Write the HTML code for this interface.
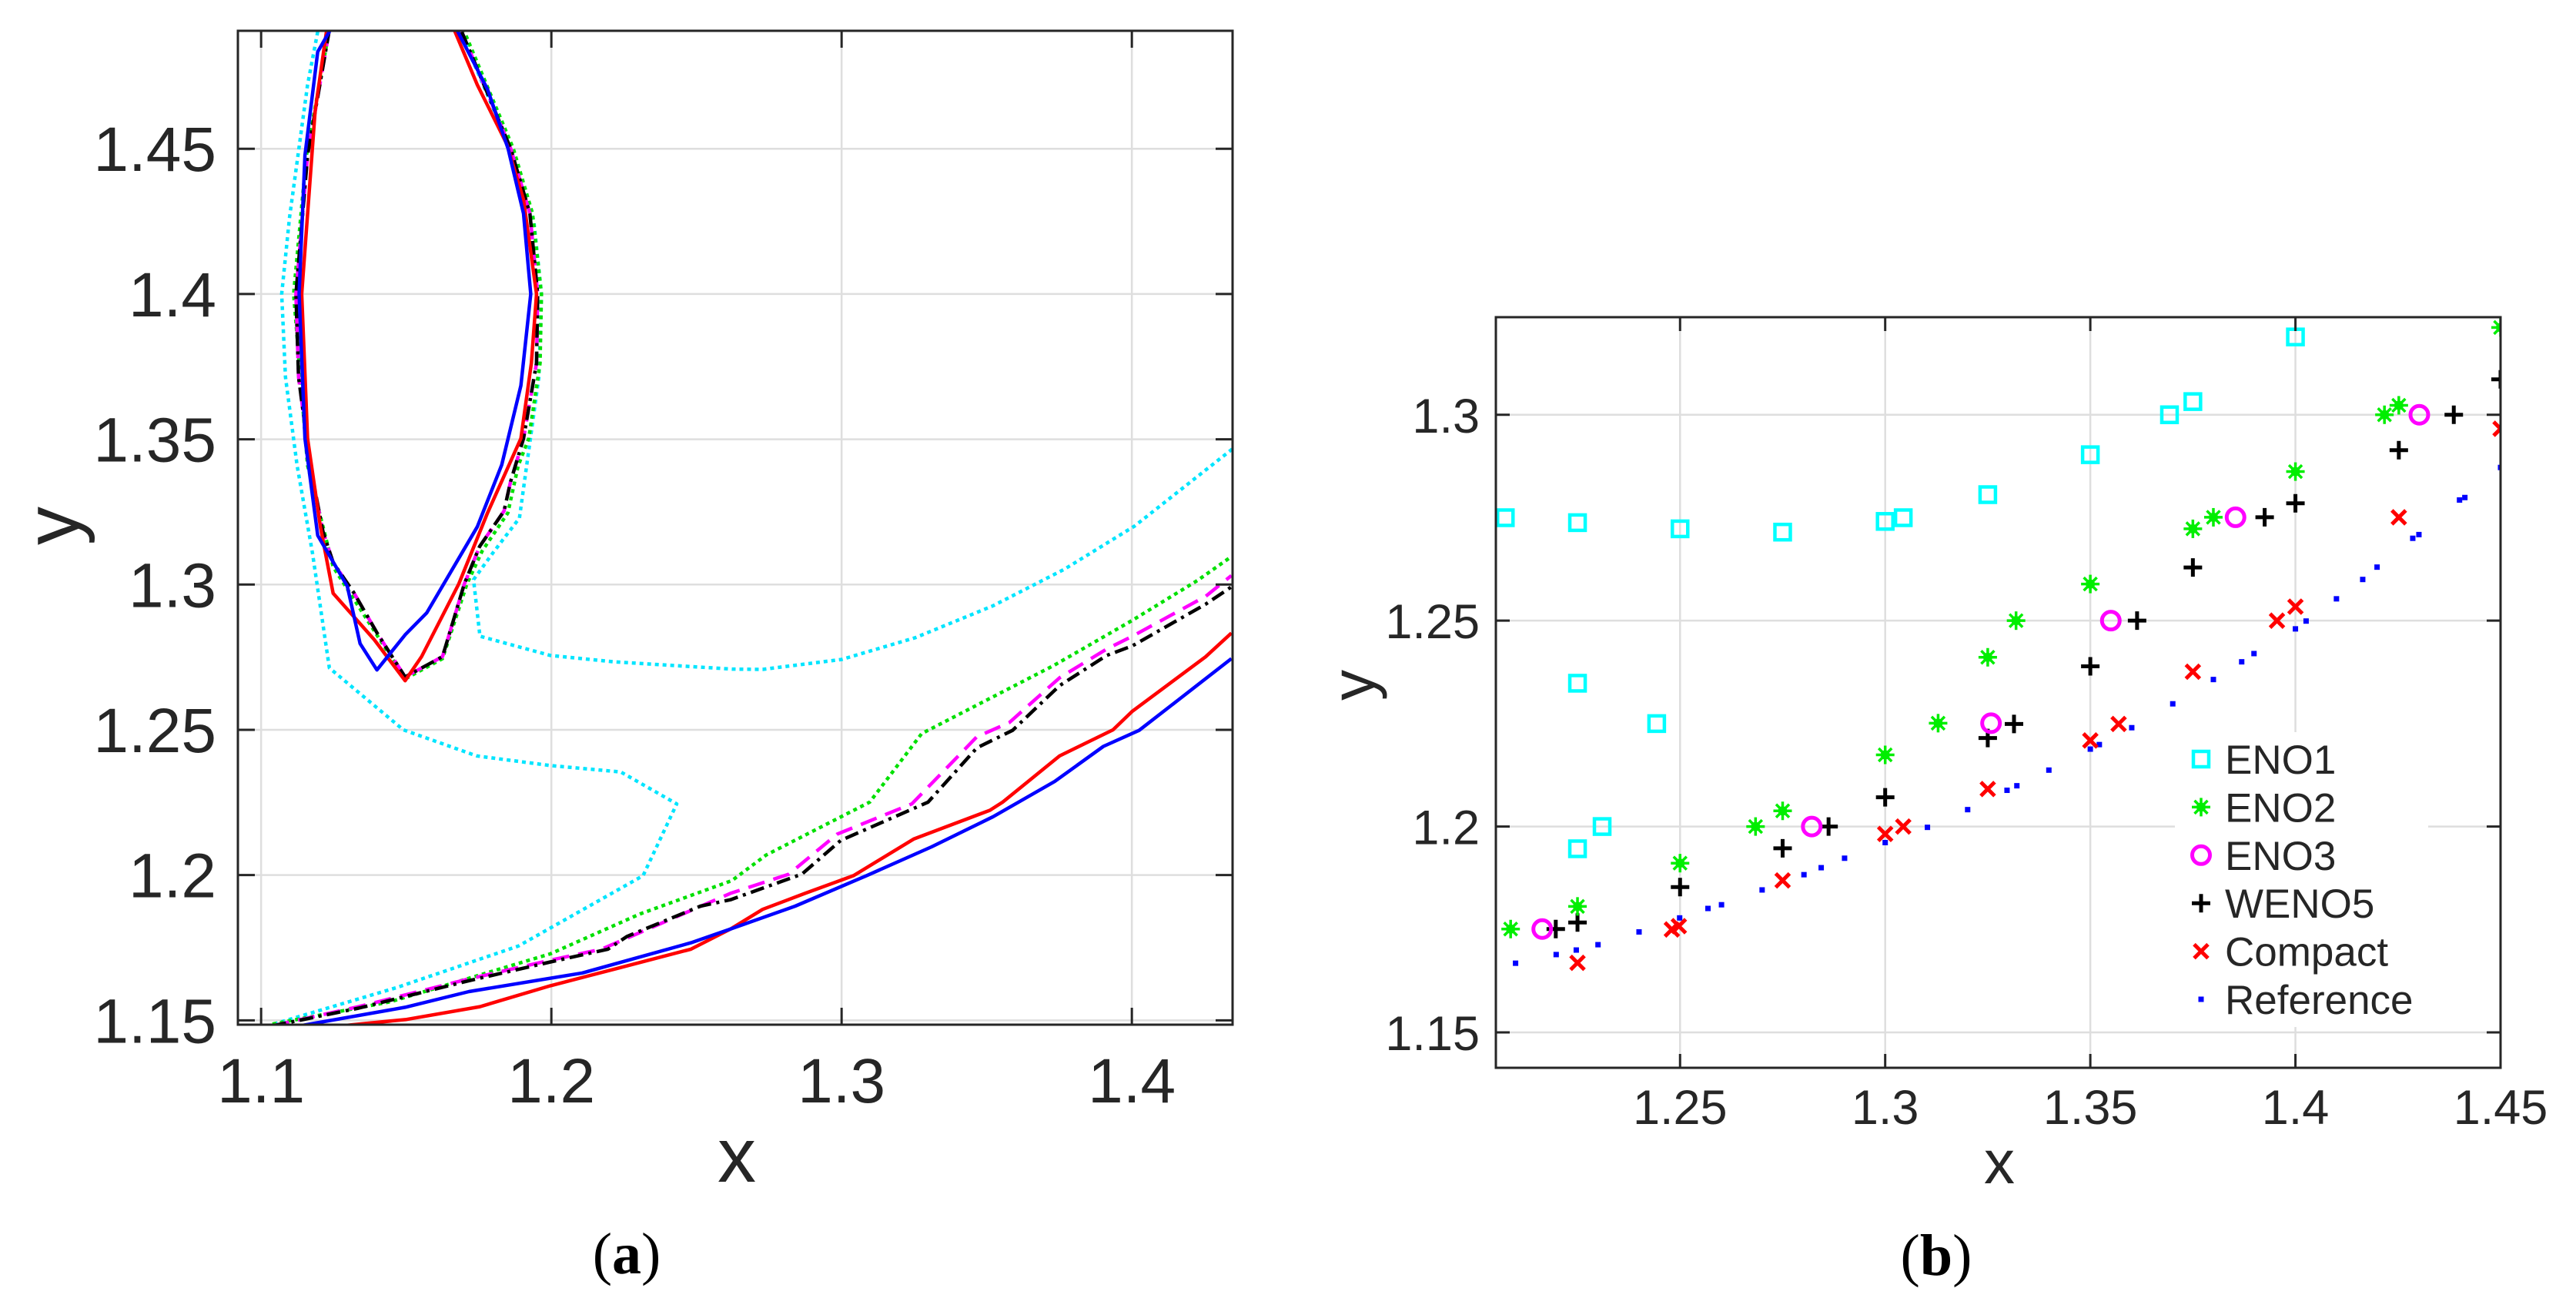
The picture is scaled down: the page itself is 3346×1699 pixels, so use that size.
<!DOCTYPE html>
<html><head><meta charset="utf-8"><style>
html,body{margin:0;padding:0;background:#fff;}
svg{display:block;font-family:"Liberation Sans",Arial,sans-serif;}
</style></head><body>
<svg id="fig" width="3346" height="1699" viewBox="0 0 3346 1699" xmlns="http://www.w3.org/2000/svg">
<defs><clipPath id="clipA"><rect x="309" y="40" width="1292" height="1291"/></clipPath><clipPath id="clipB"><rect x="1943" y="412" width="1305" height="975"/></clipPath></defs>
<rect width="3346" height="1699" fill="#fff"/>
<g id="panelA"></g>
<g id="panelB"></g>
</svg>
<script>
// ---------- Panel (a) data ----------
const aXTicks = [1.1, 1.2, 1.3, 1.4];
const aXTickLabels = ["1.1", "1.2", "1.3", "1.4"];
const aYTicks = [1.15, 1.2, 1.25, 1.3, 1.35, 1.4, 1.45];
const aYTickLabels = ["1.15", "1.2", "1.25", "1.3", "1.35", "1.4", "1.45"];
const eno1LeftX = [1.1195,1.116,1.1098,1.1071,1.1084,1.1124,1.1177,1.1235,1.149,1.1743,1.1997,1.2239,1.2432,1.2316,1.1887,1.1468,1.1006,1.0917];
const eno1LeftY = [1.4903,1.472,1.4264,1.4,1.3714,1.341,1.3108,1.2713,1.25,1.241,1.2377,1.2355,1.2245,1.1998,1.1756,1.1613,1.1476,1.148];
const eno1RightX = [1.1683,1.186,1.194,1.1966,1.1957,1.189,1.1798,1.1732,1.1754,1.1997,1.2217,1.2622,1.2728,1.3,1.3254,1.3522,1.3768,1.4009,1.4348];
const eno1RightY = [1.491,1.45,1.4249,1.4,1.3715,1.3229,1.3108,1.3017,1.2822,1.2756,1.2734,1.2709,1.2708,1.2742,1.2817,1.2927,1.3053,1.3201,1.3468];
const eno2LoopX = [1.1235,1.1156,1.1112,1.116,1.1248,1.1496,1.1625,1.1709,1.1762,1.185,1.1886,1.1922,1.1961,1.1966,1.1935,1.1869,1.17];
const eno2LoopY = [1.491,1.4477,1.4,1.341,1.3061,1.2675,1.2745,1.3002,1.3116,1.3246,1.341,1.3503,1.3762,1.4,1.4277,1.45,1.4903];
const eno2LowX = [1.1039,1.1446,1.1997,1.2305,1.2622,1.274,1.3097,1.3276,1.3734,1.4002,1.4226,1.4343];
const eno2LowY = [1.1487,1.1564,1.1729,1.1866,1.1981,1.2069,1.2251,1.2487,1.2723,1.2877,1.3014,1.3096];
const wenoLoopX = [1.1235,1.116,1.112,1.1129,1.1169,1.1213,1.1248,1.132,1.1399,1.1496,1.1625,1.17,1.1753,1.1837,1.1859,1.1904,1.1949,1.1953,1.1926,1.186,1.1691];
const wenoLoopY = [1.491,1.4477,1.4,1.3714,1.341,1.3182,1.3076,1.2971,1.2834,1.2682,1.2752,1.3002,1.3131,1.3253,1.3352,1.3503,1.3762,1.4,1.4277,1.45,1.4903];
const eno3LowX = [1.1039,1.1336,1.171,1.1997,1.2173,1.2617,1.2818,1.2985,1.3242,1.3466,1.3578,1.3751,1.3913,1.4002,1.4254,1.4343];
const eno3LowY = [1.1481,1.1547,1.1641,1.1707,1.1745,1.1937,1.2003,1.2141,1.2245,1.2476,1.2525,1.2679,1.2778,1.2822,1.2959,1.3031];
const wenoLowX = [1.1039,1.1336,1.171,1.1997,1.2195,1.2261,1.2514,1.2617,1.2863,1.2997,1.3298,1.3466,1.3589,1.3751,1.3913,1.4002,1.4254,1.4343];
const wenoLowY = [1.1481,1.1542,1.1635,1.1701,1.1745,1.1789,1.1893,1.1915,1.2003,1.2119,1.2251,1.2438,1.2498,1.2652,1.2756,1.2789,1.2932,1.2992];
const compLoopX = [1.1226,1.1186,1.114,1.116,1.1204,1.1248,1.139,1.1496,1.1553,1.1681,1.178,1.1895,1.1931,1.1949,1.1904,1.1847,1.1745,1.1665];
const compLoopY = [1.491,1.4629,1.4,1.3503,1.32,1.297,1.281,1.2669,1.2752,1.3002,1.3246,1.3503,1.3762,1.4,1.4325,1.4515,1.472,1.491];
const compLowX = [1.1226,1.1501,1.1754,1.1997,1.2228,1.2481,1.2617,1.2728,1.2874,1.3041,1.3248,1.3511,1.3555,1.3751,1.3935,1.4002,1.4254,1.4343];
const compLowY = [1.1476,1.1503,1.1547,1.1619,1.1679,1.1745,1.1814,1.1882,1.1937,1.1998,1.2124,1.2223,1.2251,1.241,1.25,1.2564,1.2751,1.2833];
const refLoopX = [1.1239,1.1195,1.1151,1.1131,1.1151,1.1195,1.1297,1.1341,1.1399,1.1496,1.1571,1.1745,1.1829,1.1895,1.1929,1.1904,1.1851,1.178,1.1674];
const refLoopY = [1.491,1.4834,1.4477,1.4,1.3503,1.3169,1.2994,1.2797,1.2706,1.2827,1.2903,1.3199,1.3412,1.3685,1.4,1.4277,1.45,1.4705,1.491];
const refLowX = [1.1105,1.1496,1.1716,1.2107,1.2481,1.2617,1.284,1.3086,1.331,1.3522,1.3734,1.3902,1.4025,1.4159,1.4343];
const refLowY = [1.1476,1.1545,1.1599,1.1663,1.1767,1.1814,1.1893,1.1998,1.2097,1.2201,1.2322,1.2443,1.2498,1.2602,1.2745];

// ---------- Panel (b) data ----------
const bXTicks = [1.25, 1.3, 1.35, 1.4, 1.45];
const bXTickLabels = ["1.25", "1.3", "1.35", "1.4", "1.45"];
const bYTicks = [1.15, 1.2, 1.25, 1.3];
const bYTickLabels = ["1.15", "1.2", "1.25", "1.3"];
const bEno1X = [1.2074,1.225,1.25,1.275,1.3,1.3044,1.325,1.225,1.2443,1.225,1.231,1.35,1.3693,1.375,1.4];
const bEno1Y = [1.275,1.2738,1.2723,1.2715,1.2741,1.275,1.2806,1.2348,1.225,1.1946,1.2,1.2903,1.3,1.3032,1.3189];
const bEno2X = [1.2087,1.225,1.25,1.2684,1.275,1.3,1.3129,1.325,1.3319,1.35,1.375,1.38,1.4,1.4217,1.4252,1.45];
const bEno2Y = [1.1751,1.1806,1.1911,1.2,1.2038,1.2174,1.2251,1.2411,1.25,1.2589,1.2723,1.2751,1.2862,1.3,1.3023,1.3212];
const bEno3X = [1.2164,1.2821,1.3258,1.355,1.3854,1.4302];
const bEno3Y = [1.1751,1.2,1.2251,1.25,1.2751,1.3];
const bWenoX = [1.2197,1.225,1.25,1.275,1.2862,1.3,1.325,1.3314,1.35,1.3614,1.375,1.3925,1.4,1.4252,1.4386,1.45];
const bWenoY = [1.1751,1.1767,1.1853,1.1947,1.2,1.2071,1.2215,1.2249,1.2389,1.25,1.2629,1.2751,1.2785,1.2914,1.3,1.3086];
const bCompX = [1.225,1.248,1.2497,1.275,1.3,1.3044,1.325,1.35,1.3569,1.375,1.3955,1.4,1.4252,1.45];
const bCompY = [1.1669,1.175,1.1758,1.1869,1.1982,1.2,1.2091,1.2209,1.2249,1.2376,1.25,1.2534,1.2751,1.2966];
const bRefX = [1.2099,1.2198,1.2247,1.23,1.24,1.2499,1.2568,1.2601,1.27,1.2802,1.2844,1.2901,1.3,1.3103,1.3201,1.3297,1.3321,1.3399,1.35,1.3522,1.3601,1.3701,1.38,1.3869,1.3899,1.4,1.4026,1.41,1.4164,1.4199,1.4286,1.4301,1.44,1.4413,1.45];
const bRefY = [1.1668,1.1689,1.17,1.1713,1.1744,1.1778,1.1801,1.181,1.1846,1.1883,1.19,1.1923,1.1961,1.1998,1.2041,1.2088,1.2099,1.2137,1.2188,1.2199,1.224,1.2298,1.2357,1.24,1.242,1.248,1.2499,1.2553,1.26,1.263,1.27,1.2709,1.2793,1.2799,1.2872];
const legendLabels = ["ENO1","ENO2","ENO3","WENO5","Compact","Reference"];

const NS = "http://www.w3.org/2000/svg";
function mk(parent, tag, attrs) {
  const e = document.createElementNS(NS, tag);
  for (const k in attrs) e.setAttribute(k, attrs[k]);
  parent.appendChild(e);
  return e;
}
const A = {x0:309, x1:1601, y0:1331, y1:40, vx0:1.092, vx1:1.4347, vy0:1.1485, vy1:1.4906};
const B = {x0:1943, x1:3248, y0:1387, y1:412, vx0:1.2051, vx1:1.45, vy0:1.1414, vy1:1.3237};
function sx(ax, v) { return ax.x0 + (v - ax.vx0) / (ax.vx1 - ax.vx0) * (ax.x1 - ax.x0); }
function sy(ax, v) { return ax.y0 - (v - ax.vy0) / (ax.vy1 - ax.vy0) * (ax.y0 - ax.y1); }

function drawAxes(g, ax, xt, yt) {
  for (let i = 0; i < xt.length; i++) {
    const X = sx(ax, xt[i]);
    const gl = mk(g, "line", {x1:X, x2:X, y1:ax.y1, y2:ax.y0, stroke:"#dedede", "stroke-width":2.5});
    
    
  }
  for (let i = 0; i < yt.length; i++) {
    const Y = sy(ax, yt[i]);
    const gl = mk(g, "line", {x1:ax.x0, x2:ax.x1, y1:Y, y2:Y, stroke:"#dedede", "stroke-width":2.5});
    
    
  }
}
function drawFrame(g, ax, xt, xl, yt, yl, tickLen, fs, xlabY, ylabX, ylabOff) {
  const box = mk(g, "rect", {x:ax.x0, y:ax.y1, width:ax.x1-ax.x0, height:ax.y0-ax.y1, fill:"none", stroke:"#262626", "stroke-width":3});
  
  
  for (let i = 0; i < xt.length; i++) {
    const X = sx(ax, xt[i]);
    mk(g, "line", {x1:X, x2:X, y1:ax.y0, y2:ax.y0-tickLen, stroke:"#262626", "stroke-width":3});
    mk(g, "line", {x1:X, x2:X, y1:ax.y1, y2:ax.y1+tickLen, stroke:"#262626", "stroke-width":3});
    const t = mk(g, "text", {x:X, y:xlabY, "text-anchor":"middle", "font-size":fs, fill:"#262626"});
    t.textContent = xl[i];
    
    
  }
  for (let i = 0; i < yt.length; i++) {
    const Y = sy(ax, yt[i]);
    mk(g, "line", {x1:ax.x0, x2:ax.x0+tickLen, y1:Y, y2:Y, stroke:"#262626", "stroke-width":3});
    mk(g, "line", {x1:ax.x1, x2:ax.x1-tickLen, y1:Y, y2:Y, stroke:"#262626", "stroke-width":3});
    const t = mk(g, "text", {x:ylabX, y:Y+ylabOff, "text-anchor":"end", "font-size":fs, fill:"#262626"});
    t.textContent = yl[i];
    
    
  }
}
function poly(g, ax, xs, ys, color, dash, name) {
  let d = "";
  for (let i = 0; i < xs.length; i++) d += (i ? " " : "") + sx(ax, xs[i]).toFixed(1) + "," + sy(ax, ys[i]).toFixed(1);
  const p = mk(g, "polyline", {points:d, fill:"none", stroke:color, "stroke-width":4.5, "stroke-linejoin":"round"});
  if (dash) p.setAttribute("stroke-dasharray", dash);
  
  
}

// ===== Panel A =====
const gA = document.getElementById("panelA");
drawAxes(gA, A, aXTicks, aYTicks);
const cA = mk(gA, "g", {"clip-path":"url(#clipA)"});


poly(cA, A, eno1LeftX, eno1LeftY, "#00e5ff", "5 5", "eno1-contour-left");
poly(cA, A, eno1RightX, eno1RightY, "#00e5ff", "5 5", "eno1-contour-right");
poly(cA, A, eno2LoopX, eno2LoopY, "#00e000", "5 5", "eno2-contour-loop");
poly(cA, A, eno2LowX, eno2LowY, "#00e000", "5 5", "eno2-contour-lower");
poly(cA, A, wenoLoopX, wenoLoopY, "#ff00ff", "22 12", "eno3-contour-loop");
poly(cA, A, eno3LowX, eno3LowY, "#ff00ff", "22 12", "eno3-contour-lower");
poly(cA, A, wenoLoopX, wenoLoopY, "#000000", "18 7 4 7", "weno5-contour-loop");
poly(cA, A, wenoLowX, wenoLowY, "#000000", "18 7 4 7", "weno5-contour-lower");
poly(cA, A, compLoopX, compLoopY, "#ff0000", null, "compact-contour-loop");
poly(cA, A, compLowX, compLowY, "#ff0000", null, "compact-contour-lower");
poly(cA, A, refLoopX, refLoopY, "#0000ff", null, "reference-contour-loop");
poly(cA, A, refLowX, refLowY, "#0000ff", null, "reference-contour-lower");
drawFrame(gA, A, aXTicks, aXTickLabels, aYTicks, aYTickLabels, 22, 82, 1432, 281, 29);
let t;
t = mk(gA, "text", {x:957, y:1535, "text-anchor":"middle", "font-size":100, fill:"#262626"}); t.textContent = "x";
 
t = mk(gA, "text", {x:0, y:0, "text-anchor":"middle", "font-size":100, fill:"#262626", transform:"translate(102,683) rotate(-90)"}); t.textContent = "y";
 
t = mk(gA, "text", {x:814, y:1654, "text-anchor":"middle", "font-size":76, fill:"#000", "font-family":"Liberation Serif, serif"});
t.innerHTML = '(<tspan font-weight="bold">a</tspan>)';
 

// ===== Panel B =====
const gB = document.getElementById("panelB");
drawAxes(gB, B, bXTicks, bYTicks);
const lgBg = mk(gB, "rect", {x:2825, y:951, width:329, height:383, fill:"#fff"});



function marker(g, kind, X, Y) {
  let m;
  if (kind === 0) m = mk(g, "rect", {x:X-10, y:Y-10, width:20, height:20, fill:"none", stroke:"#00ffff", "stroke-width":4.5});
  else if (kind === 1) {
    m = mk(g, "g", {stroke:"#00ee00", "stroke-width":3.5});
    for (let a = 0; a < 180; a += 45) {
      const r = a * Math.PI / 180, dx = 12 * Math.cos(r), dy = 12 * Math.sin(r);
      mk(m, "line", {x1:X-dx, y1:Y-dy, x2:X+dx, y2:Y+dy});
    }
    mk(m, "circle", {cx:X, cy:Y, r:6, fill:"#00ee00", stroke:"none"});
  }
  else if (kind === 2) m = mk(g, "circle", {cx:X, cy:Y, r:11.5, fill:"none", stroke:"#ff00ff", "stroke-width":5});
  else if (kind === 3) m = mk(g, "path", {d:`M${X-12},${Y}H${X+12}M${X},${Y-12}V${Y+12}`, stroke:"#000", "stroke-width":5});
  else if (kind === 4) m = mk(g, "path", {d:`M${X-9},${Y-9}L${X+9},${Y+9}M${X-9},${Y+9}L${X+9},${Y-9}`, stroke:"#ff0000", "stroke-width":5});
  else m = mk(g, "rect", {x:X-3.5, y:Y-3.5, width:7, height:7, fill:"#0000ff"});
  return m;
}
const cB = mk(gB, "g", {"clip-path":"url(#clipB)"});


const seriesB = [[bEno1X,bEno1Y,"eno1-point"],[bEno2X,bEno2Y,"eno2-point"],[bEno3X,bEno3Y,"eno3-point"],[bWenoX,bWenoY,"weno5-point"],[bCompX,bCompY,"compact-point"],[bRefX,bRefY,"reference-point"]];
for (let s = seriesB.length - 1; s >= 0; s--) {
  const xs = seriesB[s][0], ys = seriesB[s][1];
  for (let i = 0; i < xs.length; i++) {
    const m = marker(cB, s, sx(B, xs[i]), sy(B, ys[i]));
    
    
  }
}
drawFrame(gB, B, bXTicks, bXTickLabels, bYTicks, bYTickLabels, 18, 63, 1460, 1922, 23);
for (let i = 0; i < legendLabels.length; i++) {
  const Y = 986 + i * 62.4;
  const m = marker(gB, i, 2859, Y);
  
  
  const lt = mk(gB, "text", {x:2890, y:Y+19, "font-size":53, fill:"#262626"});
  lt.textContent = legendLabels[i];
  
  
}
t = mk(gB, "text", {x:2597, y:1537, "text-anchor":"middle", "font-size":80, fill:"#262626"}); t.textContent = "x";
 
t = mk(gB, "text", {x:0, y:0, "text-anchor":"middle", "font-size":80, fill:"#262626", transform:"translate(1785,890) rotate(-90)"}); t.textContent = "y";
 
t = mk(gB, "text", {x:2515, y:1656, "text-anchor":"middle", "font-size":76, fill:"#000", "font-family":"Liberation Serif, serif"});
t.innerHTML = '(<tspan font-weight="bold">b</tspan>)';
 
</script>
</body></html>
